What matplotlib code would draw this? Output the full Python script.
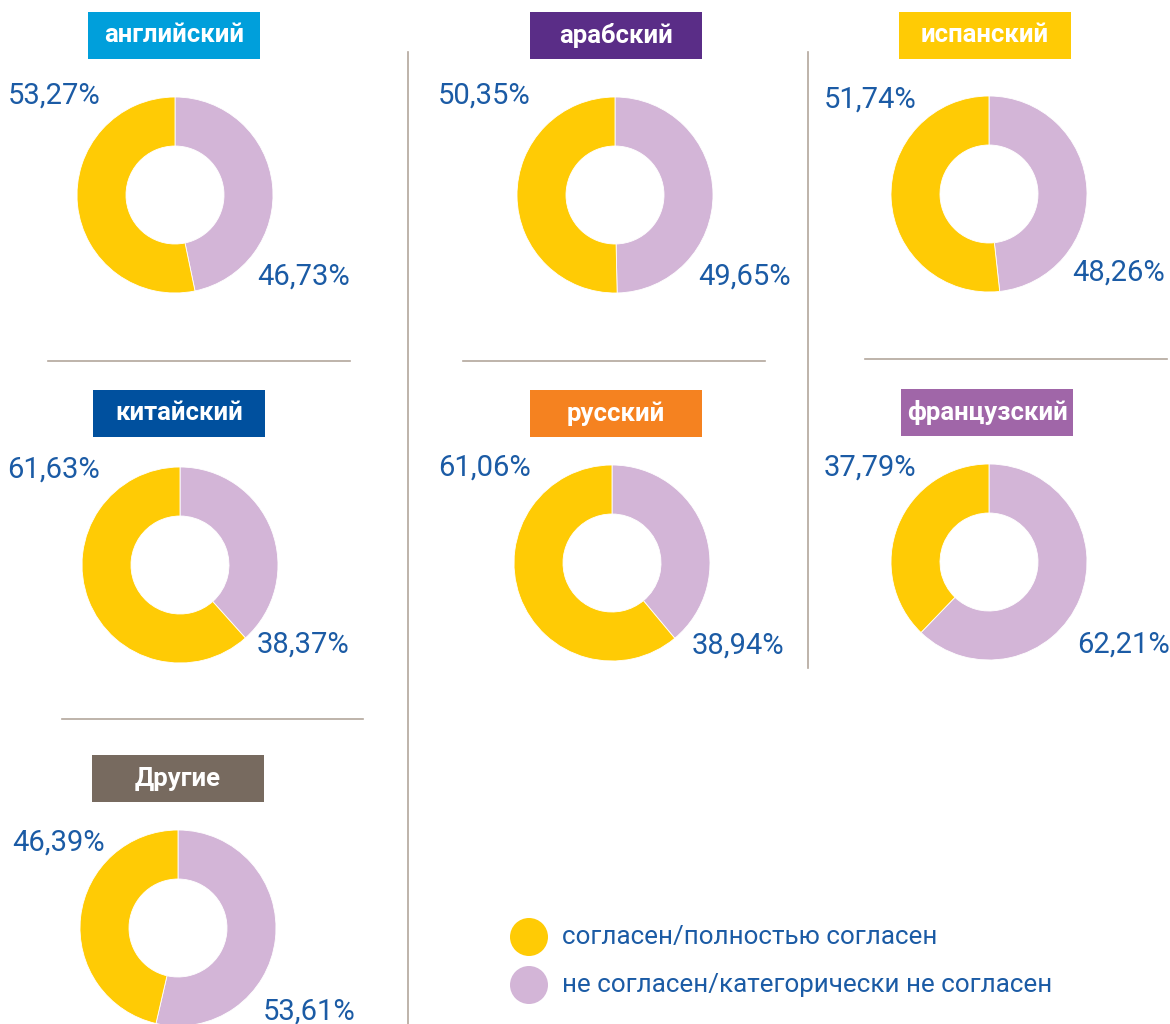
import matplotlib
matplotlib.use("Agg")
import matplotlib.pyplot as plt
from matplotlib.patches import Rectangle, Ellipse

plt.rcParams['font.family'] = ['Roboto', 'DejaVu Sans']

# data
languages = ['английский', 'арабский', 'испанский', 'китайский',
             'русский', 'французский', 'Другие']
agree = [53.27, 50.35, 51.74, 61.63, 61.06, 37.79, 46.39]
disagree = [46.73, 49.65, 48.26, 38.37, 38.94, 62.21, 53.61]
legend_labels = ['согласен/полностью согласен',
                 'не согласен/категорически не согласен']

# styles
box_colors = ['#009FDB', '#5A2D87', '#FFCB05', '#00509E',
              '#F58220', '#A066A8', '#776A5F']
c_agree = '#FFCB05'
c_dis = '#D3B5D7'
c_text = '#1B5BA5'
c_line = '#B3A79C'

W, H = 1170, 1024
# layout in pixels: donut centre, title box left/top, left label right edge, right label left edge
centers = [(175, 195), (615, 195), (989, 194), (180, 565), (612, 563), (989, 562), (178, 928)]
boxes = [(88, 12), (530, 12), (899, 12), (93, 390), (530, 390), (901, 389), (92, 755)]
lab_l = [(100, 96), (530, 96), (917, 100), (100, 470), (531, 468), (916, 468), (105, 843)]
lab_r = [(257, 277), (698, 277), (1072, 273), (257, 645), (692, 646), (1077, 645), (263, 1012)]
R = 98

fig = plt.figure(figsize=(W / 100, H / 100), dpi=100)
bg = fig.add_axes([0, 0, 1, 1])
bg.set_xlim(0, W)
bg.set_ylim(H, 0)
bg.axis('off')

# separators
bg.plot([408, 408], [52, H], color=c_line, lw=1.2)
bg.plot([808, 808], [52, 668], color=c_line, lw=1.2)
for x0, x1, y in [(48, 350, 361), (463, 765, 361), (865, 1167, 359), (62, 363, 719)]:
    bg.plot([x0, x1], [y, y], color=c_line, lw=1.2)

def fmt(v):
    return ('%.2f' % v).replace('.', ',') + '%'

for i, lang in enumerate(languages):
    cx, cy = centers[i]
    ax = fig.add_axes([(cx - R) / W, 1 - (cy + R) / H, 2 * R / W, 2 * R / H])
    ax.pie([disagree[i], agree[i]], colors=[c_dis, c_agree], startangle=90,
           counterclock=False, radius=1,
           wedgeprops=dict(width=0.5, edgecolor='white', linewidth=0.6))
    ax.set_xlim(-1, 1)
    ax.set_ylim(-1, 1)

    bx, by = boxes[i]
    bg.add_patch(Rectangle((bx, by), 172, 47, color=box_colors[i], lw=0))
    bg.text(bx + 86, by + 23.5, lang, color='white', fontsize=18.5,
            fontweight='bold', ha='center', va='center')

    bg.text(lab_l[i][0], lab_l[i][1], fmt(agree[i]), color=c_text,
            fontsize=21, ha='right', va='center')
    bg.text(lab_r[i][0], lab_r[i][1], fmt(disagree[i]), color=c_text,
            fontsize=21, ha='left', va='center')

# legend
for j, (lbl, col) in enumerate(zip(legend_labels, [c_agree, c_dis])):
    y = 937 + j * 48
    bg.add_patch(Ellipse((529, y), 38, 38, color=col, lw=0))
    bg.text(562, y, lbl, color=c_text, fontsize=18.7,
            ha='left', va='center')

fig.savefig('out.png', dpi=100)
